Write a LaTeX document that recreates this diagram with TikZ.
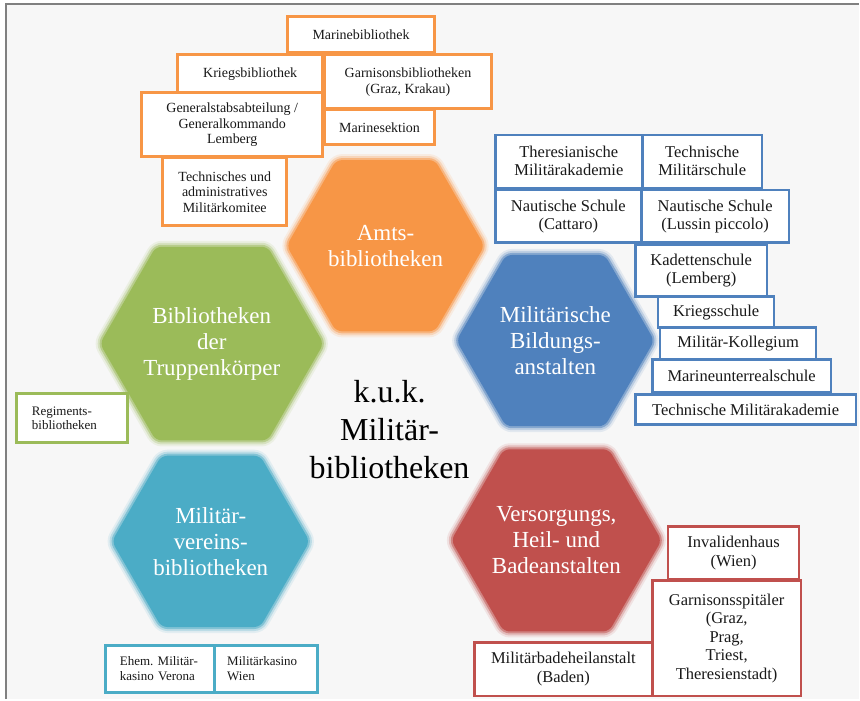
\documentclass[tikz,border=0pt]{standalone}
\usepackage{fontspec}
\setmainfont{Liberation Serif}
\usetikzlibrary{shapes.geometric}
\definecolor{amtsorange}{HTML}{F79646}
\definecolor{truppgreen}{HTML}{9BBB59}
\definecolor{bildblue}{HTML}{4F81BD}
\definecolor{versred}{HTML}{C0504D}
\definecolor{vereincyan}{HTML}{4BACC6}
\definecolor{pagebg}{HTML}{F7F7F7}
\definecolor{framegray}{HTML}{808080}
\tikzset{
  hexa/.style={regular polygon, regular polygon sides=6, minimum size=198pt,
    inner sep=0pt, rounded corners=6pt, fill=#1, text=white, align=center,
    font=\fontsize{23}{26}\selectfont,
    preaction={draw=#1, line width=12pt, opacity=0.12},
    preaction={draw=#1, line width=8pt, opacity=0.25},
    preaction={draw=#1, line width=4pt, opacity=0.5}},
  centertext/.style={align=center, font=\fontsize{32}{38}\selectfont},
  libbox/.style={draw=#1, fill=white, inner sep=0pt, align=center, text=black!90},
  obox/.style={libbox=amtsorange, line width=3pt, font=\fontsize{14}{15.5}\selectfont},
  bbox/.style={libbox=bildblue, line width=2.5pt, font=\fontsize{16.5}{18}\selectfont},
  rbox/.style={libbox=versred, line width=2.5pt, font=\fontsize{16.5}{18.5}\selectfont},
  gbox/.style={libbox=truppgreen, line width=3pt, align=left, font=\fontsize{13}{14.5}\selectfont},
  cbox/.style={libbox=vereincyan, line width=3pt, align=left, font=\fontsize{13}{15.5}\selectfont},
}
\begin{document}
\begin{tikzpicture}[x=1pt,y=-1pt]
  % page and frame
  \fill[white] (0,0) rectangle (860,700);
  \fill[pagebg] (6,4) rectangle (860,700);
  \draw[framegray, line width=2pt] (6,700) -- (6,4) -- (860,4);

  % hexagons
  \node[hexa=amtsorange] (amts) at (386,246) {Amts-\\bibliotheken};
  \node[hexa=truppgreen] (trupp) at (212,344) {Bibliotheken\\der\\Truppenkörper};
  \node[hexa=bildblue] (bildung) at (556,341) {Militärische\\Bildungs-\\anstalten};
  \node[hexa=vereincyan] (verein) at (211,542) {Militär-\\vereins-\\bibliotheken};
  \node[hexa=versred] (versorg) at (557,541) {Versorgungs,\\Heil- und\\Badeanstalten};
  \node[centertext] (kuk) at (390,430) {k.u.k.\\Militär-\\bibliotheken};

  % Amtsbibliotheken
  \node[obox, minimum width=147pt, minimum height=36pt] (marinebib) at (361.5,35) {Marinebibliothek};
  \node[obox, minimum width=145pt, minimum height=38pt] (kriegsbib) at (250.5,74) {Kriegsbibliothek};
  \node[obox, minimum width=167pt, minimum height=54pt] (garnisonbib) at (408.5,82) {Garnisonsbibliotheken\\(Graz, Krakau)};
  \node[obox, minimum width=110pt, minimum height=35pt] (marinesekt) at (380,127.5) {Marinesektion};
  \node[obox, minimum width=181pt, minimum height=64pt] (generalstab) at (232.5,125) {Generalstabsabteilung /\\Generalkommando\\Lemberg};
  \node[obox, minimum width=124pt, minimum height=68pt] (komitee) at (225,192) {Technisches und\\administratives\\Militärkomitee};

  % Bildungsanstalten
  \node[bbox, minimum width=147pt, minimum height=53pt] (theres) at (569.5,161.5) {Theresianische\\Militärakademie};
  \node[bbox, minimum width=120pt, minimum height=53pt] (techschule) at (703,161.5) {Technische\\Militärschule};
  \node[bbox, minimum width=146pt, minimum height=53pt] (nautcattaro) at (569,216.5) {Nautische Schule\\(Cattaro)};
  \node[bbox, minimum width=148pt, minimum height=53pt] (nautlussin) at (716,216.5) {Nautische Schule\\(Lussin piccolo)};
  \node[bbox, minimum width=132pt, minimum height=52pt] (kadetten) at (702,271) {Kadettenschule\\(Lemberg)};
  \node[bbox, minimum width=116pt, minimum height=31pt] (kriegsschule) at (717,312.5) {Kriegsschule};
  \node[bbox, minimum width=156pt, minimum height=32pt] (kollegium) at (739,344) {Militär-Kollegium};
  \node[bbox, minimum width=179pt, minimum height=33pt] (marineunter) at (742.5,376.5) {Marineunterrealschule};
  \node[bbox, minimum width=221pt, minimum height=30pt] (techakad) at (746.5,410) {Technische Militärakademie};

  % Versorgungs-, Heil- und Badeanstalten
  \node[rbox, minimum width=131pt, minimum height=53pt] (invaliden) at (734.5,553.5) {Invalidenhaus\\(Wien)};
  \node[rbox, minimum width=149pt, minimum height=116pt] (spitaeler) at (727.5,639) {Garnisonsspitäler\\(Graz,\\Prag,\\Triest,\\Theresienstadt)};
  \node[rbox, minimum width=178pt, minimum height=54pt] (badeheil) at (564,670) {Militärbadeheilanstalt\\(Baden)};

  % Truppenkoerper and Vereine
  \node[gbox, minimum height=49pt, text width=81pt, inner xsep=15pt] (regiment) at (72.5,418.5) {Regiments-\\bibliotheken};
  \node[cbox, minimum height=47pt, text width=81pt, inner xsep=14pt] (verona) at (160.5,669.5) {\mbox{Ehem.\ Militär-}\\\mbox{kasino Verona}};
  \node[cbox, minimum height=47pt, text width=78pt, inner xsep=12.5pt] (kasinowien) at (266.5,669.5) {Militärkasino\\Wien};
\end{tikzpicture}
\end{document}
